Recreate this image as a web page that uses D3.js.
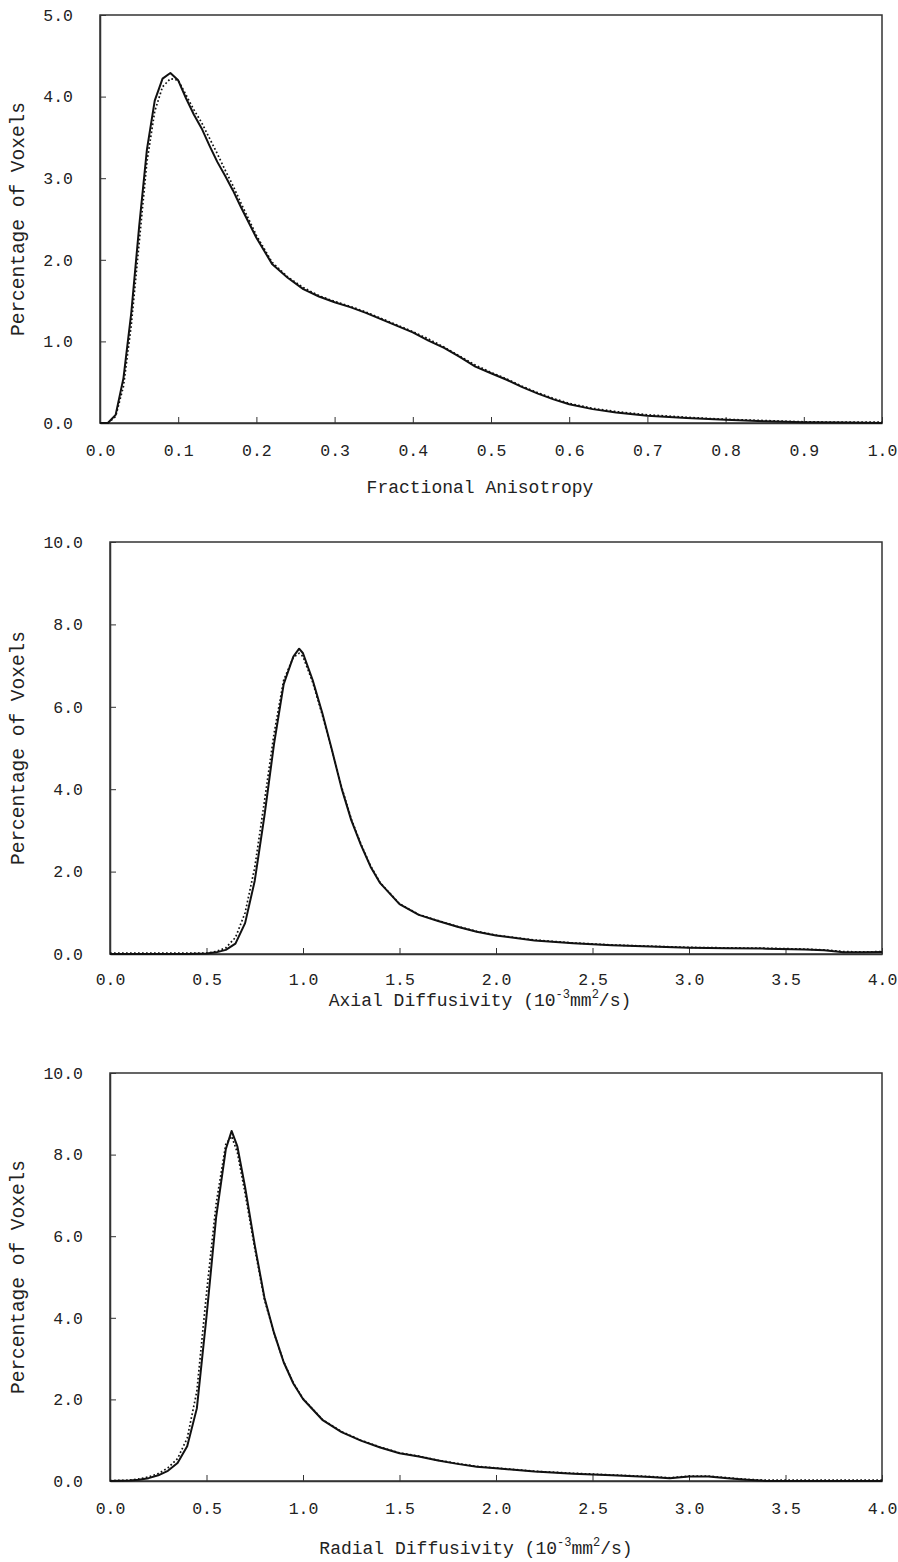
<!DOCTYPE html>
<html>
<head>
<meta charset="utf-8">
<script src="https://cdn.jsdelivr.net/npm/d3@7"></script>
<style>
  body { margin: 0; background: #fff; }
  text { font-family: "Liberation Mono", "DejaVu Sans Mono", monospace; fill: #222; }
</style>
</head>
<body>
<div id="chart"></div>
<script>
// --- Data ---

// Fractional anisotropy histogram
const faX = [0, 0.01, 0.02, 0.03, 0.04, 0.05, 0.06, 0.07, 0.08, 0.09, 0.10, 0.11, 0.12, 0.13, 0.14,
    0.15, 0.16, 0.17, 0.18, 0.19, 0.20, 0.22, 0.24, 0.26, 0.28, 0.30, 0.32, 0.34, 0.36, 0.38, 0.40,
    0.42, 0.44, 0.46, 0.48, 0.50, 0.52, 0.54, 0.56, 0.58, 0.60, 0.63, 0.66, 0.70, 0.75, 0.80, 0.85,
    0.90, 0.95, 1.00];
const faSeries1 = [0, 0, 0.10, 0.55, 1.35, 2.40, 3.35, 3.95, 4.22, 4.29, 4.20, 3.98, 3.78, 3.61, 3.40,
    3.20, 3.03, 2.85, 2.65, 2.46, 2.27, 1.95, 1.78, 1.64, 1.55, 1.48, 1.42, 1.35, 1.27, 1.19, 1.11,
    1.01, 0.92, 0.81, 0.69, 0.61, 0.53, 0.44, 0.36, 0.29, 0.23, 0.17, 0.13, 0.09, 0.06, 0.04, 0.02,
    0.01, 0.005, 0];
const faSeries2 = [0, 0, 0.08, 0.45, 1.20, 2.20, 3.20, 3.82, 4.12, 4.22, 4.20, 4.02, 3.84, 3.68, 3.49,
    3.30, 3.10, 2.91, 2.70, 2.50, 2.30, 1.97, 1.79, 1.66, 1.56, 1.49, 1.43, 1.36, 1.28, 1.20, 1.12,
    1.03, 0.93, 0.82, 0.71, 0.62, 0.54, 0.45, 0.37, 0.30, 0.24, 0.18, 0.14, 0.10, 0.07, 0.045, 0.03,
    0.015, 0.01, 0.01];

// Axial diffusivity histogram
const adX = [0, 0.1, 0.2, 0.3, 0.4, 0.5, 0.55, 0.6, 0.65, 0.7, 0.75, 0.8, 0.85, 0.9, 0.95, 0.98, 1.0,
    1.05, 1.1, 1.15, 1.2, 1.25, 1.3, 1.35, 1.4, 1.5, 1.6, 1.7, 1.8, 1.9, 2.0, 2.2, 2.4, 2.6, 2.8,
    3.0, 3.2, 3.4, 3.6, 3.7, 3.8, 3.9, 4.0];
const adSeries1 = [0, 0, 0, 0, 0, 0.01, 0.04, 0.10, 0.25, 0.75, 1.78, 3.35, 5.10, 6.55, 7.22, 7.41, 7.30,
    6.65, 5.85, 4.95, 4.02, 3.25, 2.65, 2.12, 1.72, 1.21, 0.95, 0.80, 0.66, 0.54, 0.45, 0.33, 0.26,
    0.21, 0.18, 0.15, 0.14, 0.13, 0.11, 0.09, 0.04, 0.04, 0.05];
const adSeries2 = [0.02, 0.02, 0.02, 0.02, 0.02, 0.02, 0.06, 0.15, 0.40, 1.00, 2.10, 3.70, 5.35, 6.65, 7.20, 7.30, 7.22,
    6.60, 5.80, 4.95, 4.05, 3.28, 2.67, 2.14, 1.73, 1.22, 0.96, 0.81, 0.67, 0.55, 0.46, 0.34, 0.27,
    0.22, 0.19, 0.16, 0.15, 0.14, 0.12, 0.10, 0.06, 0.05, 0.06];

// Radial diffusivity histogram
const rdX = [0, 0.1, 0.15, 0.2, 0.25, 0.3, 0.35, 0.4, 0.45, 0.5, 0.55, 0.6, 0.63, 0.66, 0.7, 0.75, 0.8,
    0.85, 0.9, 0.95, 1.0, 1.1, 1.2, 1.3, 1.4, 1.5, 1.6, 1.7, 1.8, 1.9, 2.0, 2.2, 2.4, 2.6, 2.8, 2.9,
    3.0, 3.1, 3.2, 3.3, 3.4, 3.6, 3.8, 4.0];
const rdSeries1 = [0, 0.01, 0.03, 0.07, 0.14, 0.25, 0.44, 0.85, 1.78, 4.03, 6.47, 8.13, 8.58, 8.20, 7.20,
    5.78, 4.50, 3.63, 2.91, 2.39, 2.01, 1.50, 1.20, 0.99, 0.82, 0.68, 0.60, 0.50, 0.42, 0.35, 0.31,
    0.23, 0.18, 0.14, 0.10, 0.07, 0.11, 0.11, 0.07, 0.03, 0.00, 0.00, 0.00, 0.00];
const rdSeries2 = [0.01, 0.02, 0.05, 0.10, 0.18, 0.32, 0.55, 1.05, 2.20, 4.60, 6.80, 8.25, 8.45, 8.05, 7.05,
    5.70, 4.45, 3.62, 2.92, 2.40, 2.02, 1.51, 1.21, 1.00, 0.83, 0.69, 0.61, 0.51, 0.43, 0.36, 0.32,
    0.24, 0.19, 0.15, 0.11, 0.08, 0.12, 0.12, 0.08, 0.04, 0.02, 0.02, 0.02, 0.02];

const yTitle = "Percentage of Voxels";

// --- Layout ---
const W = 898, H = 1562;

const panels = [
    { x: faX, s1: faSeries1, s2: faSeries2, xMax: 1, xStep: 0.1, yMax: 5, yStep: 1,
      box: { left: 100, right: 882, top: 15, bottom: 423 }, xPad: 21,
      title: ["Fractional Anisotropy"], titleX: 480, titleY: 493 },
    { x: adX, s1: adSeries1, s2: adSeries2, xMax: 4, xStep: 0.5, yMax: 10, yStep: 2,
      box: { left: 110, right: 882, top: 542, bottom: 954 }, xPad: 19,
      title: ["Axial Diffusivity (10", "-3", "mm", "2", "/s)"], titleX: 480, titleY: 1006 },
    { x: rdX, s1: rdSeries1, s2: rdSeries2, xMax: 4, xStep: 0.5, yMax: 10, yStep: 2,
      box: { left: 110, right: 882, top: 1073, bottom: 1481 }, xPad: 21,
      title: ["Radial Diffusivity (10", "-3", "mm", "2", "/s)"], titleX: 476, titleY: 1554 }
];

const svg = d3.select("#chart").append("svg")
    .attr("width", W)
    .attr("height", H)
    .attr("viewBox", [0, 0, W, H]);

panels.forEach(p => drawPanel(p));

function drawPanel(p) {
    const b = p.box;
    const x = d3.scaleLinear().domain([0, p.xMax]).range([b.left, b.right]);
    const y = d3.scaleLinear().domain([0, p.yMax]).range([b.bottom, b.top]);

    const xTicks = d3.range(0, p.xMax + p.xStep / 2, p.xStep);
    const yTicks = d3.range(0, p.yMax + p.yStep / 2, p.yStep);

    // frame
    svg.append("rect")
        .attr("x", b.left).attr("y", b.top)
        .attr("width", b.right - b.left).attr("height", b.bottom - b.top)
        .attr("fill", "none").attr("stroke", "#333").attr("stroke-width", 1.5);

    // axes (inward ticks)
    const gx = svg.append("g")
        .attr("transform", `translate(0,${b.bottom})`)
        .call(d3.axisBottom(x).tickValues(xTicks).tickFormat(d3.format(".1f"))
            .tickSizeInner(-6).tickSizeOuter(0).tickPadding(p.xPad));
    const gy = svg.append("g")
        .attr("transform", `translate(${b.left},0)`)
        .call(d3.axisLeft(y).tickValues(yTicks).tickFormat(d3.format(".1f"))
            .tickSizeInner(-6).tickSizeOuter(0).tickPadding(27));
    [gx, gy].forEach(g => {
        g.select(".domain").attr("stroke", "#333").attr("stroke-width", 1.5);
        g.selectAll(".tick line").attr("stroke", "#333").attr("stroke-width", 1);
        g.selectAll(".tick text")
            .attr("font-family", "Liberation Mono, DejaVu Sans Mono, monospace")
            .attr("font-size", 16.5).attr("fill", "#222");
    });

    // curves
    const line = (xs) => d3.line()
        .x((d, i) => x(xs[i]))
        .y(d => y(d));

    svg.append("path")
        .datum(p.s2)
        .attr("d", line(p.x))
        .attr("fill", "none")
        .attr("stroke", "#111")
        .attr("stroke-width", 1.7)
        .attr("stroke-dasharray", "1.7,2.3");

    svg.append("path")
        .datum(p.s1)
        .attr("d", line(p.x))
        .attr("fill", "none")
        .attr("stroke", "#111")
        .attr("stroke-width", 2)
        .attr("stroke-linejoin", "round");

    // y title
    svg.append("text")
        .attr("transform", `translate(24,${(b.top + b.bottom) / 2}) rotate(-90)`)
        .attr("text-anchor", "middle")
        .attr("font-size", 19.5)
        .text(yTitle);

    // x title, with superscripts where needed
    const t = svg.append("text")
        .attr("x", p.titleX)
        .attr("y", p.titleY)
        .attr("text-anchor", "middle")
        .attr("font-size", 18);
    p.title.forEach((part, i) => {
        const sup = i % 2 === 1;
        t.append("tspan")
            .attr("font-size", sup ? 12 : 18)
            .attr("dy", i === 0 ? 0 : (sup ? -8 : 8))
            .text(part);
    });
}
</script>
</body>
</html>
